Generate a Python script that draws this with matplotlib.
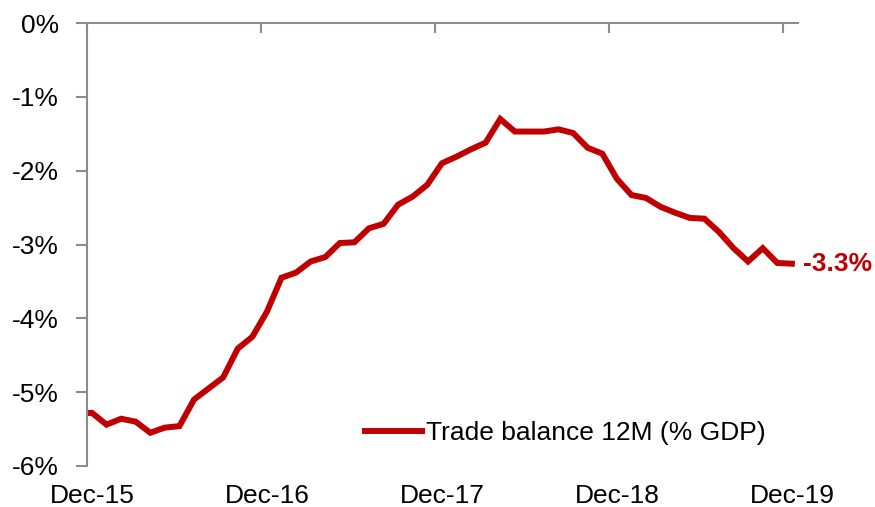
import numpy as np
import pandas as pd
import matplotlib
matplotlib.use("Agg")
import matplotlib.pyplot as plt
from matplotlib.ticker import FixedLocator, FuncFormatter

plt.rcParams['font.family'] = ['Liberation Sans', 'DejaVu Sans']

# 12-month rolling trade balance, % of GDP (Nov-15 .. Dec-19)
months = pd.period_range('2015-11', '2019-12', freq='M')
trade_balance = [
    -5.29, -5.28, -5.44, -5.36, -5.40, -5.55, -5.48, -5.46, -5.10, -4.95,
    -4.80, -4.41, -4.25, -3.91, -3.45, -3.38, -3.23, -3.17, -2.98, -2.97,
    -2.78, -2.72, -2.46, -2.35, -2.19, -1.90, -1.81, -1.71, -1.62, -1.30,
    -1.47, -1.47, -1.47, -1.44, -1.49, -1.69, -1.77, -2.11, -2.33, -2.37,
    -2.49, -2.57, -2.64, -2.65, -2.83, -3.05, -3.23, -3.05, -3.25, -3.26,
]
y_ticks = [0, -1, -2, -3, -4, -5, -6]

RED = '#C00000'
GREY = '#8C8C8C'
FS = 19

# month index relative to Dec-15
x = np.arange(len(months)) - 1
dec_idx = [i - 1 for i, m in enumerate(months) if m.month == 12]
dec_labels = [months[i + 1].strftime('%b-%y') for i in dec_idx]

fig = plt.figure(figsize=(8.75, 5.07), dpi=100)
ax = fig.add_axes([0.0994, 0.0809, 0.8126, 0.8737])

ax.plot(x, trade_balance, color=RED, lw=4.3, solid_joinstyle='miter',
        label='Trade balance 12M (% GDP)', clip_on=True)

ax.set_xlim(-0.34, 48.42)
ax.set_ylim(-6, 0)

# spines: y axis on the left, x axis line drawn along 0% at the top
for side in ['right', 'bottom']:
    ax.spines[side].set_visible(False)
for side in ['left', 'top']:
    ax.spines[side].set_color(GREY)
    ax.spines[side].set_linewidth(1.5)

ax.yaxis.set_major_locator(FixedLocator(y_ticks))
ax.yaxis.set_major_formatter(FuncFormatter(lambda v, p: f'{v:.0f}%'))
ax.tick_params(axis='y', direction='out', length=8, width=1.5, color=GREY,
               labelsize=FS, pad=12)

# year labels at the bottom, tick marks on the top line
ax.xaxis.set_major_locator(FixedLocator(dec_idx))
ax.set_xticklabels(dec_labels)
ax.xaxis.set_minor_locator(FixedLocator([-0.34, 11.59, 23.53, 35.46, 47.39]))
ax.tick_params(axis='x', which='major', bottom=True, top=False, length=0,
               labelsize=FS, pad=13)
ax.tick_params(axis='x', which='minor', bottom=False, top=True,
               direction='in', length=7, width=1.5, color=GREY)

last = trade_balance[-1]
ax.annotate(f'{last:.1f}%', xy=(x[-1], last), xytext=(8, 0),
            textcoords='offset points', ha='left', va='center',
            color=RED, fontsize=FS, fontweight='bold', annotation_clip=False)

ax.legend(loc='center left', bbox_to_anchor=(365 / 875, 1 - 433 / 507),
          bbox_transform=fig.transFigure, frameon=False, fontsize=FS,
          handlelength=2.16, handletextpad=0.15, borderpad=0, borderaxespad=0)

fig.savefig('out.png', dpi=100)
